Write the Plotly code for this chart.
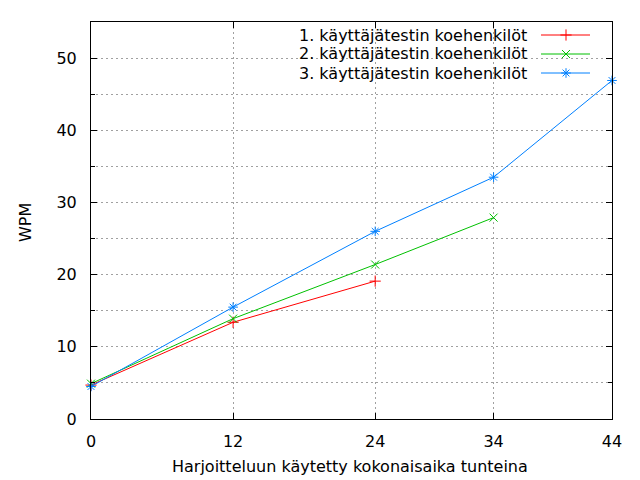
import plotly.graph_objects as go

# ---- data ----
hours = [0, 12, 24, 34, 44]
s1_x = [0, 12, 24]
s1_y = [4.7, 13.4, 19.1]
s2_x = [0, 12, 24, 34]
s2_y = [4.9, 13.9, 21.4, 27.9]
s3_x = [0, 12, 24, 34, 44]
s3_y = [4.5, 15.5, 26.0, 33.5, 46.9]
names = ["1. käyttäjätestin koehenkilöt",
         "2. käyttäjätestin koehenkilöt",
         "3. käyttäjätestin koehenkilöt"]
colors = ["#ff0000", "#00c000", "#0080ff"]
symbols = ["cross-thin-open", "x-thin-open", "asterisk-open"]
x_title = "Harjoitteluun käytetty kokonaisaika tunteina"
y_title = "WPM"

FONT = "DejaVu Sans"
FS = 16
W, H = 640, 480
ml, mr, mt, mb = 91, 28, 22, 61

fig = go.Figure()
series = [(s1_x, s1_y), (s2_x, s2_y), (s3_x, s3_y)]
for (xs, ys), c, s, n in zip(series, colors, symbols, names):
    fig.add_trace(go.Scatter(
        x=xs, y=ys, mode="lines+markers", name=n,
        line=dict(color=c, width=1),
        marker=dict(symbol=s, size=8, color=c, line=dict(color=c, width=1)),
        showlegend=False, cliponaxis=False))

# ---- custom gnuplot-style legend (text right, sample on the right) ----
pw = W - ml - mr
ph = H - mt - mb
def px_to_paper_x(px):
    return (px - ml) / pw
def px_to_paper_y(py):
    return 1 - (py - mt) / ph

leg_rows = [35, 54, 73]
text_right = 529
samp_l, samp_r, samp_m = 541, 590, 566

# white box hiding the grid behind the legend
fig.add_shape(type="rect", xref="paper", yref="paper",
              x0=px_to_paper_x(167), x1=1, y0=px_to_paper_y(82), y1=1,
              fillcolor="white", line=dict(width=0), layer="between")

for row, c, s, n in zip(leg_rows, colors, symbols, names):
    fig.add_annotation(xref="paper", yref="paper",
                       x=px_to_paper_x(text_right), y=px_to_paper_y(row),
                       text=n, showarrow=False, xanchor="right", yanchor="middle",
                       font=dict(family=FONT, size=FS, color="black"))
    fig.add_trace(go.Scatter(
        x=[px_to_paper_x(samp_l), px_to_paper_x(samp_r)],
        y=[px_to_paper_y(row)] * 2, xaxis="x2", yaxis="y2",
        mode="lines", line=dict(color=c, width=1),
        showlegend=False, hoverinfo="skip", cliponaxis=False))
    fig.add_trace(go.Scatter(
        x=[px_to_paper_x(samp_m)], y=[px_to_paper_y(row)], xaxis="x2", yaxis="y2",
        mode="markers",
        marker=dict(symbol=s, size=8, color=c, line=dict(color=c, width=1)),
        showlegend=False, hoverinfo="skip", cliponaxis=False))

# axis titles as annotations for exact placement
fig.add_annotation(xref="paper", yref="paper", x=px_to_paper_x(350),
                   y=px_to_paper_y(466), text=x_title, showarrow=False,
                   xanchor="center", yanchor="middle",
                   font=dict(family=FONT, size=FS, color="black"))
fig.add_annotation(xref="paper", yref="paper", x=px_to_paper_x(25),
                   y=px_to_paper_y(223), text=y_title, showarrow=False,
                   xanchor="center", yanchor="middle", textangle=-90,
                   font=dict(family=FONT, size=FS, color="black"))

DASH = "2px,3px"
GRIDC = "#a0a0a0"

fig.update_layout(
    width=W, height=H,
    margin=dict(l=ml, r=mr, t=mt, b=mb),
    paper_bgcolor="white", plot_bgcolor="white",
    font=dict(family=FONT, size=FS, color="black"),
    xaxis=dict(range=[0, 44], tickvals=hours, ticktext=[str(h) for h in hours],
               showgrid=True, gridcolor=GRIDC, griddash=DASH, gridwidth=1,
               zeroline=False, automargin=False,
               showline=True, linecolor="black", linewidth=1, mirror="ticks",
               ticks="inside", ticklen=6, tickcolor="black",
               ticklabelstandoff=8,
               tickfont=dict(family=FONT, size=FS)),
    yaxis=dict(range=[0, 55], tickvals=[0, 10, 20, 30, 40, 50],
               showgrid=True, gridcolor=GRIDC, griddash=DASH, gridwidth=1,
               zeroline=False, automargin=False,
               showline=True, linecolor="black", linewidth=1, mirror="ticks",
               ticks="inside", ticklen=6, tickcolor="black",
               ticklabelstandoff=10,
               minor=dict(tickvals=[5, 15, 25, 35, 45], showgrid=True,
                          gridcolor=GRIDC, griddash=DASH, gridwidth=1,
                          ticks="inside", ticklen=4, tickcolor="black"),
               tickfont=dict(family=FONT, size=FS)),
    xaxis2=dict(range=[0, 1], overlaying="x", visible=False, fixedrange=True),
    yaxis2=dict(range=[0, 1], overlaying="y", visible=False, fixedrange=True),
)

fig.write_html("out.html", config={"displayModeBar": False},
               post_script="document.body.style.margin='0';document.body.style.padding='0';")
